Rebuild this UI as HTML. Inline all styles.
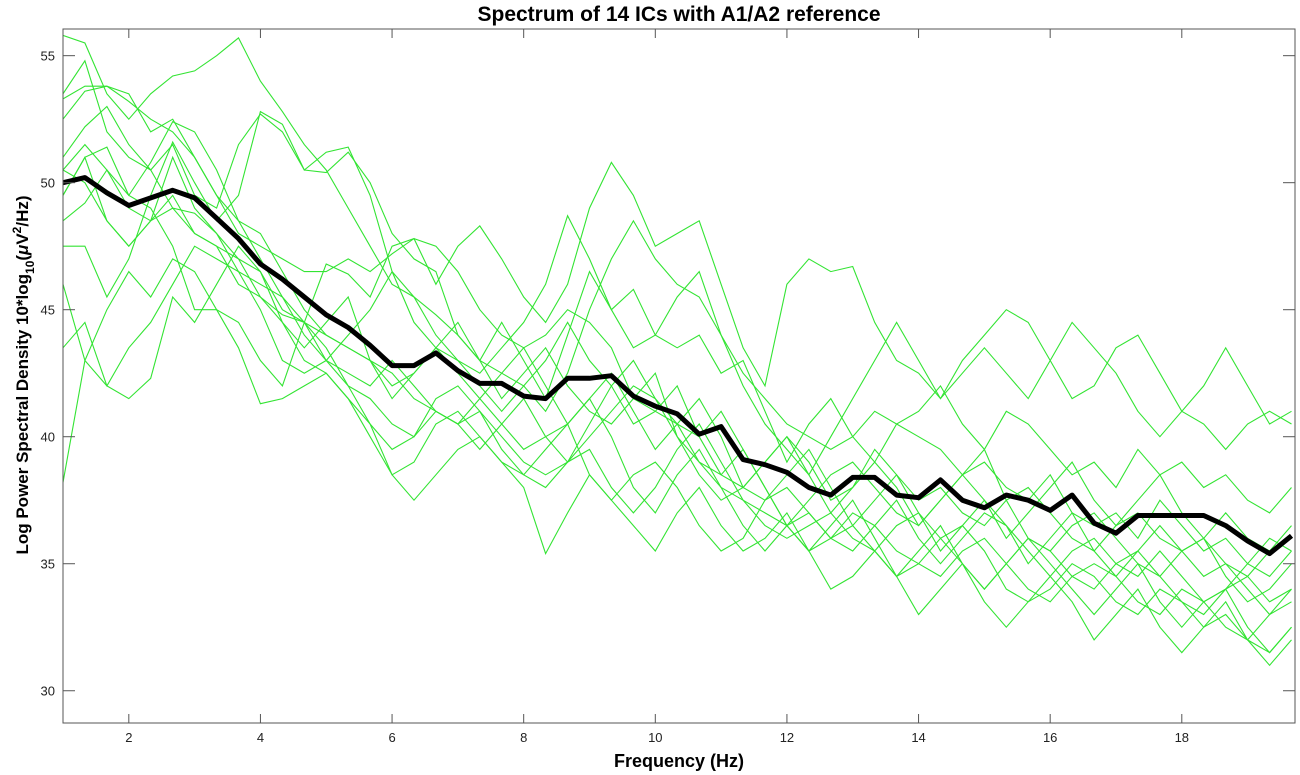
<!DOCTYPE html>
<html><head><meta charset="utf-8"><style>
body{margin:0;background:#fff;}
svg{display:block;font-family:"Liberation Sans",Arial,sans-serif;}
</style></head><body>
<svg id="chart" width="1300" height="775"></svg>
<script>
const black=[50,50.2,49.6,49.1,49.4,49.7,49.4,48.6,47.8,46.8,46.2,45.5,44.8,44.3,43.6,42.8,42.8,43.3,42.6,42.1,42.1,41.6,41.5,42.3,42.3,42.4,41.6,41.2,40.9,40.1,40.4,39.1,38.9,38.6,38.0,37.7,38.4,38.4,37.7,37.6,38.3,37.5,37.2,37.7,37.5,37.1,37.7,36.6,36.2,36.9,36.9,36.9,36.9,36.5,35.9,35.4,36.1];
const g1=[55.8,55.5,53.5,52.5,53.5,54.2,54.4,55.0,55.7,54.0,52.8,51.5,50.5,49.0,47.5,46.0,45.5,44.8,44.0,43.0,42.5,42.0,41.0,42.5,45.0,47.0,48.5,47.0,46.0,45.5,44.0,42.5,41.5,40.5,40.0,39.5,40.0,41.0,40.5,40.0,39.5,38.5,39.0,38.0,37.5,38.5,37.0,36.5,37.0,36.0,37.5,36.5,35.5,36.0,35.0,36.0,35.5];
const g2=[53.5,54.8,52.0,51.0,50.5,51.5,49.5,49.0,51.5,52.7,52.0,50.5,50.4,51.2,50.0,48.0,47.0,46.5,44.0,43.0,44.5,43.0,41.5,44.0,46.5,45.0,45.8,44.0,43.5,44.0,42.5,43.0,41.0,39.0,40.5,41.5,40.0,39.0,40.5,41.0,42.0,40.5,39.5,41.0,40.5,39.5,38.5,39.0,38.0,39.5,38.5,39.0,38.0,38.5,37.5,37.0,38.0];
const g3=[52.5,53.6,53.8,53.5,52.0,52.5,51.0,49.5,48.0,47.5,47.0,46.5,46.5,47.0,46.5,47.2,47.8,47.5,46.5,45.0,44.0,43.5,44.0,45.0,44.5,43.5,41.5,41.0,40.5,40.0,41.0,39.5,38.0,36.5,37.5,38.5,39.0,38.0,37.0,36.5,37.5,38.5,39.5,37.5,36.0,35.5,36.5,37.0,36.0,35.0,34.5,35.5,36.0,34.5,33.5,34.0,35.0];
const g4=[53.3,53.8,53.8,53.2,52.5,52.0,51.0,49.5,48.5,48.0,46.5,45.0,44.0,43.5,43.0,42.5,41.5,41.0,40.5,41.0,40.0,39.0,38.5,39.0,40.0,41.0,42.0,41.5,40.0,39.0,38.0,37.5,37.0,36.5,35.5,36.0,37.0,36.5,35.5,35.0,34.5,35.5,36.0,35.0,34.0,33.5,34.5,35.0,34.5,33.5,33.0,34.0,33.5,32.5,32.0,33.0,33.5];
const g5=[51.0,52.2,53.0,51.5,50.5,49.0,48.0,47.5,47.0,46.5,45.0,44.5,43.0,42.5,42.0,43.0,42.0,41.0,40.5,41.5,40.5,39.5,40.0,40.5,38.5,37.5,38.5,39.0,38.0,36.5,35.5,36.0,37.5,38.0,37.0,36.0,36.5,35.5,34.5,35.0,36.0,36.5,35.5,34.0,33.5,34.0,35.0,34.5,33.5,33.0,34.0,33.5,32.5,33.0,32.0,31.5,32.5];
const g6=[50.5,51.5,50.5,49.5,50.8,52.4,52.0,50.5,48.5,47.0,45.5,44.5,43.5,42.0,41.5,40.5,40.0,41.5,42.0,41.0,39.5,38.5,38.0,39.0,39.5,38.0,37.0,38.0,39.5,40.5,39.0,37.5,36.5,36.0,36.5,37.0,36.0,35.5,36.5,37.0,36.0,35.0,34.0,35.0,36.0,35.5,34.5,34.0,35.0,35.5,34.5,33.5,33.0,34.0,34.5,33.5,34.0];
const g7=[48.5,49.2,50.5,49.0,48.5,49.0,48.8,48.0,47.0,45.5,44.8,44.5,44.0,43.5,43.0,42.0,42.5,43.5,43.0,42.0,41.0,42.0,43.0,44.5,43.0,42.0,40.5,41.0,42.0,40.0,38.5,38.0,39.0,40.0,39.0,37.5,38.0,39.5,38.5,37.5,38.0,37.0,36.5,37.5,38.0,37.0,36.0,35.5,36.5,37.0,36.0,35.5,36.0,35.0,34.5,35.5,36.0];
const g8=[46.0,43.0,42.0,43.5,44.5,46.0,47.5,47.0,46.5,45.0,43.0,42.5,43.0,42.0,40.5,39.5,40.0,41.0,40.5,39.5,40.5,41.5,40.0,39.0,40.5,42.0,43.0,41.5,40.5,39.0,38.5,39.5,38.0,36.5,35.5,36.5,37.5,36.0,34.5,35.5,36.5,35.0,34.0,35.0,36.0,35.0,34.0,33.0,34.0,35.0,33.5,32.5,33.5,34.0,32.5,31.5,32.5];
const g9=[43.5,44.5,42.0,41.5,42.3,45.5,44.5,46.0,47.5,46.5,44.5,43.0,42.5,41.5,40.5,38.5,37.5,38.5,39.5,40.0,39.0,38.5,39.5,40.5,41.5,40.0,38.0,37.0,38.5,39.5,38.0,36.5,35.5,36.5,37.0,36.0,35.5,36.5,37.5,36.0,35.0,36.0,37.0,36.5,35.5,34.5,35.5,36.0,35.0,34.5,35.5,34.5,33.5,34.0,35.0,34.5,35.5];
const g10=[38.2,43.0,45.0,46.5,45.5,47.0,46.5,45.0,43.5,41.3,41.5,42.0,42.5,41.5,40.0,38.5,39.0,40.5,41.0,40.0,39.0,38.0,35.4,37.0,38.5,37.5,36.5,35.5,37.0,38.0,36.5,35.5,36.0,37.0,35.5,34.0,34.5,35.5,34.5,33.0,34.0,35.0,33.5,32.5,33.5,34.5,33.5,32.0,33.0,34.0,32.5,31.5,32.5,33.5,32.0,31.0,32.0];
const g11=[49.5,51.0,51.4,49.5,49.0,47.5,45.0,45.0,44.5,43.0,42.0,44.5,46.8,46.4,45.5,47.5,47.8,46.0,47.5,48.3,47.0,45.5,44.5,46.0,49.0,50.8,49.5,47.5,48.0,48.5,46.0,43.5,42.0,46.0,47.0,46.5,46.7,44.5,43.0,42.5,41.5,43.0,44.0,45.0,44.5,43.0,41.5,42.0,43.5,44.0,42.5,41.0,42.0,43.5,42.0,40.5,41.0];
const g12=[47.5,47.5,45.5,47.0,49.5,51.6,50.0,48.5,49.5,52.8,52.3,50.5,51.2,51.4,49.5,46.5,45.5,44.0,43.0,42.5,43.5,44.5,46.0,48.7,47.0,45.0,43.5,44.0,45.5,46.5,44.0,42.0,40.5,39.5,38.5,40.0,41.5,43.0,44.5,43.0,41.5,42.5,43.5,42.5,41.5,43.0,44.5,43.5,42.5,41.0,40.0,41.0,40.5,39.5,40.5,41.0,40.5];
const g13=[49.5,51.0,48.5,47.5,48.5,51.0,49.0,48.0,46.5,46.0,45.5,44.0,43.0,44.0,45.0,46.5,44.5,43.5,44.5,43.0,41.5,42.5,43.5,42.0,41.0,40.5,41.5,42.5,40.0,38.5,37.5,38.0,39.0,40.0,38.5,37.0,38.0,39.0,38.0,36.5,37.5,38.5,37.5,36.0,37.0,38.0,39.0,37.5,36.5,37.5,38.5,37.0,36.0,37.0,36.0,35.5,36.5];
const g14=[50.5,50.0,48.5,47.5,48.5,49.5,48.0,47.5,46.0,45.5,44.5,43.5,44.5,45.5,43.0,41.5,42.5,43.5,42.5,41.5,42.5,43.5,42.0,40.5,41.5,42.5,41.0,39.5,40.5,41.5,40.0,38.0,37.5,38.5,39.5,38.0,36.5,37.5,38.5,37.0,35.5,36.5,37.5,36.5,35.0,36.0,37.0,35.5,34.5,35.5,36.5,35.5,34.5,35.0,34.0,33.0,34.0];
const greens=[g1,g2,g3,g4,g5,g6,g7,g8,g9,g10,g11,g12,g13,g14];
const xTicks=[2,4,6,8,10,12,14,16,18];
const yTicks=[30,35,40,45,50,55];

const L=63,R=1295,T=29,B=723;
const xMin=1,xMax=19.72,yMin=28.73,yMax=56.05;
const xs=v=>L+(v-xMin)/(xMax-xMin)*(R-L);
const ys=v=>B-(v-yMin)/(yMax-yMin)*(B-T);
const NS='http://www.w3.org/2000/svg';
const svg=document.getElementById('chart');
function mk(tag,attrs,parent){const e=document.createElementNS(NS,tag);for(const k in attrs)e.setAttribute(k,attrs[k]);(parent||svg).appendChild(e);return e;}
const clip=mk('clipPath',{id:'pc'},mk('defs',{}));mk('rect',{x:L,y:T,width:R-L,height:B-T},clip);
const plot=mk('g',{'clip-path':'url(#pc)'});


function pts(arr){return arr.map((v,i)=>xs(1+i/3).toFixed(1)+','+ys(v).toFixed(1)).join(' ');}
greens.forEach((s,k)=>{
  const p=mk('polyline',{points:pts(s),fill:'none',stroke:'#33e433','stroke-width':1.1},plot);
  
  
});
const bl=mk('polyline',{points:pts(black),fill:'none',stroke:'#000','stroke-width':5,'stroke-linejoin':'round'},plot);


const fr=mk('rect',{x:L,y:T,width:R-L,height:B-T,fill:'none',stroke:'#555','stroke-width':1});


xTicks.forEach(t=>{
  const x=xs(t);
  mk('line',{x1:x,x2:x,y1:B,y2:B-9,stroke:'#555'});
  mk('line',{x1:x,x2:x,y1:T,y2:T+9,stroke:'#555'});
  const tx=mk('text',{x:x,y:B+19,'text-anchor':'middle','font-size':13,fill:'#222'});tx.textContent=t;
  
  
});
yTicks.forEach(t=>{
  const y=ys(t);
  mk('line',{x1:L,x2:L+12,y1:y,y2:y,stroke:'#555'});
  mk('line',{x1:R,x2:R-12,y1:y,y2:y,stroke:'#555'});
  const tx=mk('text',{x:L-8,y:y+5,'text-anchor':'end','font-size':13,fill:'#222'});tx.textContent=t;
  
  
});
const title=mk('text',{x:679,y:21,'text-anchor':'middle','font-size':21,'font-weight':'bold'});
title.textContent='Spectrum of 14 ICs with A1/A2 reference';


const xl=mk('text',{x:679,y:767,'text-anchor':'middle','font-size':18,'font-weight':'bold'});
xl.textContent='Frequency (Hz)';


const yl=mk('text',{x:0,y:0,'text-anchor':'middle','font-size':17,'font-weight':'bold',transform:'translate(28,375) rotate(-90)'});
yl.innerHTML='Log Power Spectral Density 10*log<tspan font-size="12" dy="6">10</tspan><tspan dy="-6">(</tspan><tspan font-style="italic">μ</tspan>V<tspan font-size="12" dy="-7">2</tspan><tspan dy="7">/Hz)</tspan>';


</script>
</body></html>
